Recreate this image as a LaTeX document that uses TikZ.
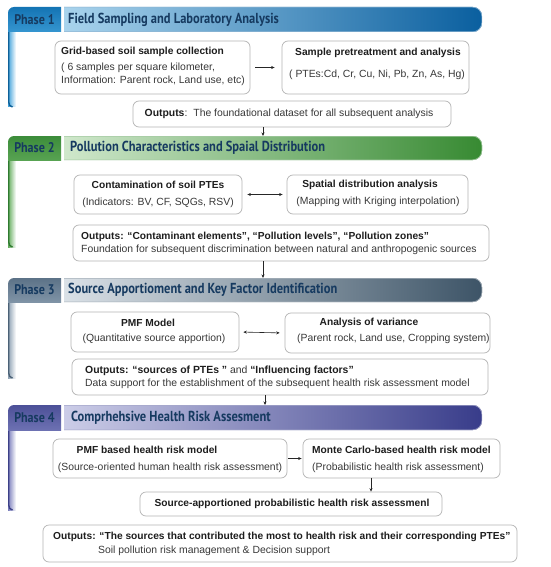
\documentclass[tikz,border=0pt]{standalone}
\usepackage{fontspec}
\setmainfont{Liberation Sans}
\newfontfamily\titlefont[FakeStretch=0.86]{PT Sans}
\usetikzlibrary{arrows.meta}
% phase colours
\definecolor{Atabtop}{HTML}{1474B4}\definecolor{Atabbot}{HTML}{43A3DB}\definecolor{Aedge}{HTML}{0E6098}
\definecolor{AbarL}{HTML}{B2DAF1}\definecolor{AbarM}{HTML}{6DB9E3}\definecolor{AbarR}{HTML}{0A5F9F}
\definecolor{Btabtop}{HTML}{3C8C3A}\definecolor{Btabbot}{HTML}{63AC5C}\definecolor{Bedge}{HTML}{2F7A30}
\definecolor{BbarL}{HTML}{D8EDD4}\definecolor{BbarM}{HTML}{A9D3A0}\definecolor{BbarR}{HTML}{378A32}
\definecolor{Ctabtop}{HTML}{5C7287}\definecolor{Ctabbot}{HTML}{8EA1B3}\definecolor{Cedge}{HTML}{4B6176}
\definecolor{CbarL}{HTML}{E3E9EE}\definecolor{CbarM}{HTML}{B9C5D0}\definecolor{CbarR}{HTML}{3D5467}
\definecolor{Dtabtop}{HTML}{4C5098}\definecolor{Dtabbot}{HTML}{7A7EBC}\definecolor{Dedge}{HTML}{3C4087}
\definecolor{DbarL}{HTML}{D4D5ED}\definecolor{DbarM}{HTML}{AAACD8}\definecolor{DbarR}{HTML}{383C8A}
\definecolor{titlecol}{HTML}{163A60}
\definecolor{boxgray}{HTML}{B4B4B4}
\definecolor{txtcol}{HTML}{383838}
\definecolor{hdcol}{HTML}{1E1E1E}
\tikzset{
  box/.style={draw=boxgray, line width=0.7pt, rounded corners=6pt, fill=white, inner sep=0pt},
  txt/.style={font=\fontsize{10.4}{12}\selectfont, text=txtcol, inner sep=0pt},
  hd/.style={font=\fontsize{10.2}{12}\selectfont\bfseries, text=hdcol, inner sep=0pt},
  titletxt/.style={font=\titlefont\bfseries\fontsize{14.5}{15}\selectfont, text=titlecol, inner sep=0pt},
  phaselbl/.style={font=\titlefont\bfseries\fontsize{14}{15}\selectfont, text=titlecol, inner sep=0pt},
  arr/.style={-{Stealth[length=3.5pt,width=3pt]}, line width=0.6pt, draw=black!85},
  darr/.style={{Stealth[length=3.5pt,width=3pt]}-{Stealth[length=3.5pt,width=3pt]}, line width=0.6pt, draw=black!85}
}
\newcommand{\phaseblock}[7]{%
  \shade[left color=#1tabbot, right color=white] (8,#3) rectangle (16,#4);
  \draw[#1edge, line width=1.4pt] (8.7,#2+5) -- (8.7,#4-5) to[out=-90,in=180] (12.5,#4);
  \begin{scope}
    \clip (8,#2) rectangle (61,#3);
    \shade[top color=#1tabtop, bottom color=#1tabbot, rounded corners=6pt] (8,#2) rectangle (75,#3+10);
  \end{scope}
  \begin{scope}
    \clip (64,#2-1) rectangle (490,#3+1);
    \shade[left color=#1barL, middle color=#1barM, right color=#1barR, rounded corners=9pt] (40,#2) rectangle (482,#3);
    \draw[#1barR!45, line width=0.5pt, rounded corners=9pt] (40,#2+0.25) rectangle (481.75,#3-0.25);
  \end{scope}
  \node[phaselbl] (lbl#1) at (34.5,{(#2+#3)/2}) {#5};
  \node[titletxt, anchor=west] (ttl#1) at (#7,{(#2+#3)/2}) {#6};
}
\begin{document}
\begin{tikzpicture}[x=1pt,y=-1pt]
\useasboundingbox (0,0) rectangle (550,567);
\fill[white] (0,0) rectangle (550,567);

% ---------------- Phase 1
\phaseblock{A}{7}{32}{107}{Phase 1}{Field Sampling and Laboratory Analysis}{68}
\node[box, minimum width=195pt, minimum height=53pt] (b11) at (152.5,67.5) {};
\node[box, minimum width=187pt, minimum height=53pt] (b12) at (375.5,67.5) {};
\node[hd, anchor=west] (b11a) at (61,52) {Grid-based soil sample collection};
\node[txt, anchor=west] (b11b) at (61,68) {( 6 samples per square kilometer,};
\node[txt, anchor=west] (b11c) at (61,81) {Information: Parent rock, Land use, etc)};
\node[hd] (b12a) at (378,53) {Sample pretreatment and analysis};
\node[txt] (b12b) at (377,75) {( PTEs:Cd, Cr, Cu, Ni, Pb, Zn, As, Hg)};
\draw[arr, shorten <=5pt, shorten >=7pt] (b11.east) -- (b12.west);
\node[box, minimum width=318pt, minimum height=26pt] (o1) at (292,114) {};
\node[txt] (o1a) at (289,114) {\textcolor{hdcol}{\bfseries Outputs}:\hspace{6pt}The foundational dataset for all subsequent analysis};
\coordinate (bar2) at (263,136);
\draw[arr] (o1.south -| bar2) -- (bar2);

% ---------------- Phase 2
\phaseblock{B}{136}{160}{247}{Phase 2}{Pollution Characteristics and Spaial Distribution}{70}
\node[box, minimum width=168pt, minimum height=39pt] (b21) at (158,194.5) {};
\node[box, minimum width=181pt, minimum height=39pt] (b22) at (377.5,194.5) {};
\node[hd] (b21a) at (158,185) {Contamination of soil PTEs};
\node[txt] (b21b) at (158,203) {(Indicators: BV, CF, SQGs, RSV)};
\node[hd] (b22a) at (370,185) {Spatial distribution analysis};
\node[txt] (b22b) at (378,202) {(Mapping with Kriging interpolation)};
\draw[darr, shorten <=5pt, shorten >=4pt] (b21.east) -- (b22.west);
\node[box, minimum width=416pt, minimum height=36pt] (o2) at (281,243) {};
\node[hd, anchor=west] (o2a) at (81,237) {Outputs: “Contaminant elements”, “Pollution levels”, “Pollution zones”};
\node[txt, anchor=west] (o2b) at (81,249.5) {Foundation for subsequent discrimination between natural and anthropogenic sources};
\coordinate (bar3) at (263,278);
\draw[arr] (o2.south -| bar3) -- (bar3);

% ---------------- Phase 3
\phaseblock{C}{278}{302}{378}{Phase 3}{Source Apportioment and Key Factor Identification}{68}
\node[box, minimum width=168pt, minimum height=40pt] (b31) at (155,332) {};
\node[box, minimum width=205pt, minimum height=40pt] (b32) at (387.5,333) {};
\node[hd] (b31a) at (148,323) {PMF Model};
\node[txt] (b31b) at (154,339) {(Quantitative source apportion)};
\node[hd] (b32a) at (369,323) {Analysis of variance};
\node[txt, anchor=west] (b32b) at (289,339) {\hspace{8pt}(Parent rock, Land use, Cropping system)};
\draw[darr, shorten <=4pt, shorten >=5pt] (b31.east) -- (b32.west);
\node[box, minimum width=416pt, minimum height=36pt] (o3) at (280,377) {};
\node[txt, anchor=west] (o3a) at (85,371) {\textcolor{hdcol}{\bfseries Outputs: “sources of PTEs ”} and \textcolor{hdcol}{\bfseries “Influencing factors”}};
\node[txt, anchor=west] (o3b) at (85,383.5) {Data support for the establishment of the subsequent health risk assessment model};
\coordinate (bar4) at (265,405);
\draw[arr] (o3.south -| bar4) -- (bar4);

% ---------------- Phase 4
\phaseblock{D}{405}{430}{510}{Phase 4}{Comprhehsive Health Risk Assesment}{71}
\node[box, minimum width=234pt, minimum height=39pt] (b41) at (170,458.5) {};
\node[box, minimum width=197pt, minimum height=39pt] (b42) at (401.5,458.5) {};
\node[hd] (b41a) at (147,450) {PMF based health risk model};
\node[txt] (b41b) at (170,468) {(Source-oriented human health risk assessment)};
\node[hd, anchor=west] (b42a) at (312,450) {Monte Carlo-based health risk model};
\node[txt, anchor=west] (b42b) at (312,468) {(Probabilistic health risk assessment)};
\draw[arr, shorten <=1pt, shorten >=1pt] (b41.east) -- (b42.west);
\node[box, minimum width=302pt, minimum height=24pt] (b43) at (291,504) {};
\node[hd] (b43a) at (292,504) {Source-apportioned probabilistic health risk assessmenl};
\coordinate (ax4) at (371,0);
\draw[arr] (b42.south -| ax4) -- (b43.north -| ax4);
\node[box, minimum width=474pt, minimum height=37pt] (o4) at (280,543.5) {};
\node[hd, anchor=west] (o4a) at (53,537) {Outputs: “The sources that contributed the most to health risk and their corresponding PTEs”};
\node[txt, anchor=west] (o4b) at (98,551) {Soil pollution risk management \& Decision support};
\end{tikzpicture}
\end{document}
